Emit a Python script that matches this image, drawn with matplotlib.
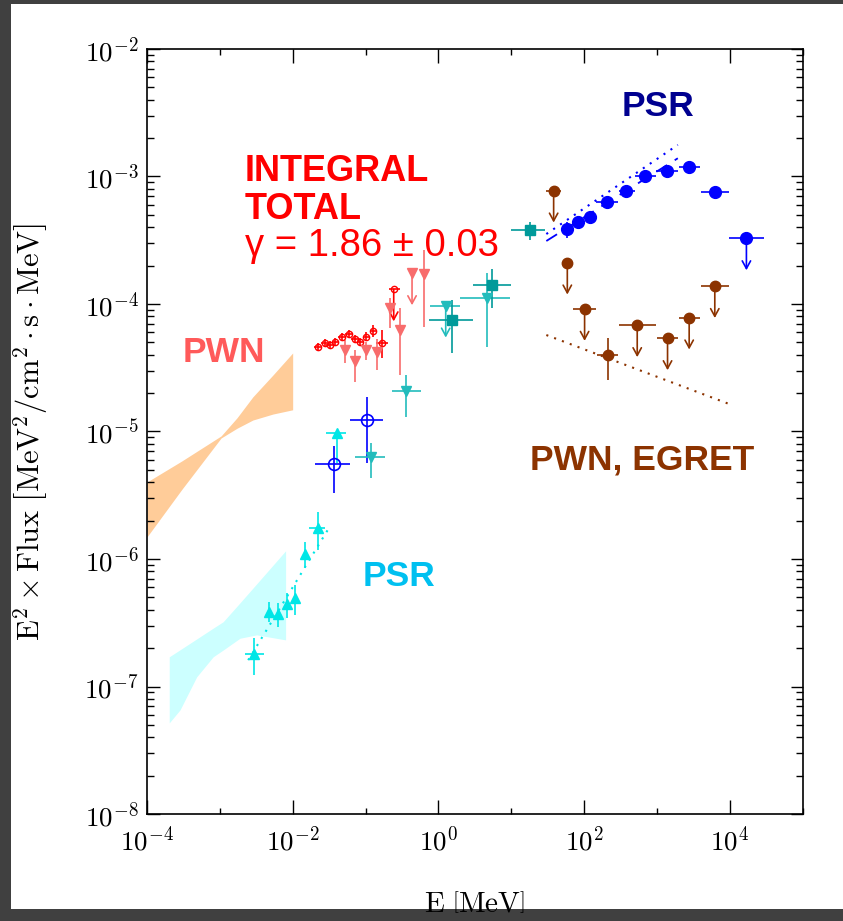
import numpy as np
import matplotlib
matplotlib.use('Agg')
import matplotlib.pyplot as plt
from matplotlib.patches import Rectangle
from matplotlib.ticker import FixedLocator, FuncFormatter, NullFormatter

plt.rcParams['mathtext.fontset'] = 'cm'
plt.rcParams['font.family'] = ['DejaVu Serif']

# ---------------- data (E in MeV, E^2 x Flux in MeV^2/(cm^2 s MeV)) ----------------
# PWN butterfly (low-energy)
pwn_band_E = [1.0e-4, 3.0e-4, 1.04e-3, 1.72e-3, 2.84e-3, 5.35e-3, 1.0e-2]
pwn_band_hi = [4.02e-6, 5.87e-6, 9.23e-6, 1.28e-5, 1.87e-5, 2.77e-5, 4.13e-5]
pwn_band_lo = [1.49e-6, 3.51e-6, 8.89e-6, 1.06e-5, 1.23e-5, 1.37e-5, 1.48e-5]

# PSR butterfly (low-energy)
psr_band_E = [2.02e-4, 2.84e-4, 4.81e-4, 8.11e-4, 1.11e-3, 1.89e-3, 3.20e-3, 8.0e-3]
psr_band_hi = [1.71e-7, 1.94e-7, 2.36e-7, 2.87e-7, 3.22e-7, 4.53e-7, 6.38e-7, 1.16e-6]
psr_band_lo = [5.18e-8, 6.55e-8, 1.19e-7, 1.71e-7, 1.93e-7, 2.39e-7, 2.54e-7, 2.32e-7]

# PSR cyan triangles
cy_E = [2.96e-3, 4.67e-3, 6.21e-3, 8.24e-3, 1.08e-2, 1.46e-2, 2.20e-2, 0.040]
cy_F = [1.80e-7, 3.86e-7, 3.68e-7, 4.42e-7, 4.92e-7, 1.09e-6, 1.76e-6, 9.68e-6]
cy_F_lo = [1.22e-7, 3.22e-7, 2.94e-7, 3.43e-7, 3.64e-7, 8.45e-7, 1.18e-6, 5.66e-6]
cy_F_hi = [2.39e-7, 4.62e-7, 4.52e-7, 5.38e-7, 6.25e-7, 1.37e-6, 2.35e-6, 1.0e-5]
cy_E_lo = [2.23e-3, 4.45e-3, 6.0e-3, 8.0e-3, 1.05e-2, 1.40e-2, 1.68e-2, 0.0285]
cy_E_hi = [4.03e-3, 4.9e-3, 6.45e-3, 8.5e-3, 1.11e-2, 1.52e-2, 2.82e-2, 0.0548]
cy_fit_E = [2.45e-3, 3.07e-2]
cy_fit_F = [1.61e-7, 1.71e-6]

# INTEGRAL total (red)
red_E = [0.0224, 0.0277, 0.0324, 0.0387, 0.0469, 0.0585, 0.0714, 0.0853, 0.1032, 0.127, 0.171]
red_F = [4.62e-5, 4.97e-5, 4.80e-5, 5.04e-5, 5.48e-5, 5.82e-5, 5.28e-5, 5.06e-5, 5.54e-5, 6.18e-5, 4.97e-5]
red_F_lo = [4.3e-5, 4.6e-5, 4.45e-5, 4.7e-5, 5.1e-5, 5.4e-5, 4.9e-5, 4.7e-5, 5.1e-5, 5.54e-5, 3.75e-5]
red_F_hi = [4.95e-5, 5.35e-5, 5.15e-5, 5.4e-5, 5.9e-5, 6.25e-5, 5.7e-5, 5.45e-5, 6.0e-5, 6.84e-5, 6.25e-5]
red_E_lo = [0.0199, 0.0246, 0.0288, 0.0344, 0.0417, 0.0521, 0.0636, 0.0760, 0.0920, 0.116, 0.1415]
red_E_hi = [0.0252, 0.0311, 0.0364, 0.0435, 0.0527, 0.0657, 0.0802, 0.0958, 0.1158, 0.139, 0.204]
red_ul_E = [0.244]
red_ul_F = [1.30e-4]
red_ul_E_lo = [0.211]
red_ul_E_hi = [0.296]

# salmon triangles
sal_E = [0.0520, 0.0719, 0.1009, 0.144, 0.2153, 0.302, 0.631]
sal_F = [4.35e-5, 3.59e-5, 4.35e-5, 4.23e-5, 9.25e-5, 6.25e-5, 1.71e-4]
sal_F_lo = [3.43e-5, 2.46e-5, 3.64e-5, 3.03e-5, 6.44e-5, 2.77e-5, 6.64e-5]
sal_F_hi = [5.22e-5, 4.35e-5, 5.06e-5, 5.28e-5, 1.11e-4, 9.25e-5, 2.65e-4]
sal_ul_E = [0.4355]
sal_ul_F = [1.74e-4]

# dark cyan triangles
dc_E = [0.1172, 0.3648, 4.66]
dc_F = [6.28e-6, 2.09e-5, 1.11e-4]
dc_E_lo = [0.0713, 0.2275, 2.01]
dc_E_hi = [0.188, 0.586, 9.53]
dc_F_lo = [4.30e-6, 1.31e-5, 4.62e-5]
dc_F_hi = [8.07e-6, 2.77e-5, 1.74e-4]
dc_ul_E = [1.263]
dc_ul_F = [9.7e-5]
dc_ul_E_lo = [0.762]
dc_ul_E_hi = [1.97]

# teal squares
tq_E = [1.56, 5.52, 17.9]
tq_F = [7.50e-5, 1.41e-4, 3.80e-4]
tq_E_lo = [0.745, 2.99, 10.07]
tq_E_hi = [2.99, 10.07, 29.4]
tq_F_lo = [4.10e-5, 9.25e-5, 3.18e-4]
tq_F_hi = [1.07e-4, 1.87e-4, 4.42e-4]

# blue open circles
oc_E = [0.0364, 0.105]
oc_F = [5.56e-6, 1.23e-5]
oc_E_lo = [0.0201, 0.061]
oc_E_hi = [0.061, 0.174]
oc_F_lo = [3.31e-6, 5.64e-6]
oc_F_hi = [7.69e-6, 1.85e-5]

# PSR EGRET (blue)
ps_E = [59.0, 83.6, 119.4, 206, 380, 693, 1390, 2750, 6250]
ps_F = [3.85e-4, 4.37e-4, 4.84e-4, 6.34e-4, 7.69e-4, 1.01e-3, 1.10e-3, 1.19e-3, 7.55e-4]
ps_E_lo = [54, 77, 110, 147.5, 301, 494, 982, 1986, 3981]
ps_E_hi = [64, 91, 130, 292, 494, 982, 1941, 3936, 9840]
ps_F_lo = [3.27e-4, 4.1e-4, 4.6e-4, 6.1e-4, 7.4e-4, 9.7e-4, 1.06e-3, 1.15e-3, 7.2e-4]
ps_F_hi = [4.42e-4, 4.65e-4, 5.1e-4, 6.6e-4, 8.0e-4, 1.05e-3, 1.14e-3, 1.24e-3, 7.9e-4]
ps_ul_E = [16980]
ps_ul_F = [3.27e-4]
ps_ul_E_lo = [9930]
ps_ul_E_hi = [29400]
ps_dot_E = [30.4, 1941]
ps_dot_F = [3.54e-4, 1.77e-3]
ps_dash_E = [30.4, 1941]
ps_dash_F = [3.12e-4, 1.39e-3]

# PWN EGRET (brown)
br_E = [211]
br_F = [3.98e-5]
br_E_lo = [150]
br_E_hi = [296]
br_F_lo = [2.54e-5]
br_F_hi = [5.45e-5]
br_ul_E = [38.3, 59.0, 101.9, 538, 1403, 2780, 6250]
br_ul_F = [7.74e-4, 2.11e-4, 9.14e-5, 6.81e-5, 5.38e-5, 7.82e-5, 1.38e-4]
br_ul_E_lo = [30.4, 59.0, 70.5, 301, 1000, 2006, 3981]
br_ul_E_hi = [48.9, 59.0, 147.5, 982, 1968, 3936, 9930]
br_fit_E = [30.4, 9930]
br_fit_F = [5.71e-5, 1.64e-5]

x_major = [1e-4, 1e-2, 1e0, 1e2, 1e4]
x_minor = [1e-3, 1e-1, 1e1, 1e3, 1e5]
y_major = [1e-8, 1e-7, 1e-6, 1e-5, 1e-4, 1e-3, 1e-2]

# ---------------- styles ----------------
C_BLUE = '#0000ff'
C_NAVY = '#000090'
C_BROWN = '#8c3300'
C_RED = '#ff0000'
C_SALMON = '#f86c6c'
C_PWN_TXT = '#ff5a5a'
C_DCYAN = '#22bcbc'
C_TEAL = '#009a9a'
C_CYAN = '#00e6e6'
C_CYAN_TXT = '#00c0f0'
ARROW_DEX = 0.25
ELW = 1.2

W, H = 843, 921
fig = plt.figure(figsize=(W / 100, H / 100), dpi=100, facecolor='#404040')
fig.add_artist(Rectangle((11 / W, 12 / H), 1 - 11 / W, (H - 12 - 4) / H,
                         transform=fig.transFigure, facecolor='white',
                         edgecolor='none', zorder=-10))
ax = fig.add_axes([147 / W, 1 - 814 / H, (802.5 - 147) / W, (814 - 49) / H])
ax.set_xscale('log')
ax.set_yscale('log')
ax.set_xlim(1e-4, 1e5)
ax.set_ylim(1e-8, 1e-2)


def ebar(E, F, Elo, Ehi, Flo, Fhi, color, marker, ms, mfc=None, mew=1.0, z=5):
    E = np.asarray(E); F = np.asarray(F)
    xerr = None if Elo is None else [E - np.asarray(Elo), np.asarray(Ehi) - E]
    yerr = None if Flo is None else [F - np.asarray(Flo), np.asarray(Fhi) - F]
    ax.errorbar(E, F, xerr=xerr, yerr=yerr, fmt=marker, color=color, ms=ms,
                mfc=color if mfc is None else mfc, mec=color, mew=mew,
                elinewidth=ELW, capsize=0, zorder=z)


def ularrows(E, F, color, z=4):
    for e, f in zip(E, F):
        ax.annotate('', xy=(e, f * 10 ** (-ARROW_DEX)), xytext=(e, f),
                    arrowprops=dict(arrowstyle='->,head_length=0.55,head_width=0.3',
                                    color=color, lw=ELW, shrinkA=0, shrinkB=0),
                    zorder=z)


# bands
ax.fill_between(pwn_band_E, pwn_band_lo, pwn_band_hi, color='#ffcc99', lw=0, zorder=1)
ax.fill_between(psr_band_E, psr_band_lo, psr_band_hi, color='#ccffff', lw=0, zorder=1)

# fit lines
ax.plot(cy_fit_E, cy_fit_F, ls=(0, (1, 3)), color=C_CYAN, lw=1.5, zorder=2)
ax.plot(ps_dot_E, ps_dot_F, ls=(0, (1, 3)), color=C_BLUE, lw=1.5, zorder=2)
ax.plot(ps_dash_E, ps_dash_F, ls=(0, (7, 5)), color=C_BLUE, lw=1.3, zorder=2)
ax.plot(br_fit_E, br_fit_F, ls=(0, (1, 3)), color=C_BROWN, lw=1.5, zorder=2)

# low energy PSR
ebar(cy_E, cy_F, cy_E_lo, cy_E_hi, cy_F_lo, cy_F_hi, C_CYAN, '^', 7.5)
# open blue circles
ebar(oc_E, oc_F, oc_E_lo, oc_E_hi, oc_F_lo, oc_F_hi, C_BLUE, 'o', 8.5, mfc='none', mew=1.2)
# INTEGRAL total
ebar(red_E, red_F, red_E_lo, red_E_hi, red_F_lo, red_F_hi, C_RED, 'o', 4.5, mfc='none', mew=1.0)
ebar(red_ul_E, red_ul_F, red_ul_E_lo, red_ul_E_hi, None, None, C_RED, 'o', 4.5, mfc='none', mew=1.0)
ularrows(red_ul_E, red_ul_F, C_RED)
# salmon
ebar(sal_E, sal_F, None, None, sal_F_lo, sal_F_hi, C_SALMON, 'v', 7.5)
ebar(sal_ul_E, sal_ul_F, None, None, None, None, C_SALMON, 'v', 7.5)
ularrows(sal_ul_E, sal_ul_F, C_SALMON)
# dark cyan
ebar(dc_E, dc_F, dc_E_lo, dc_E_hi, dc_F_lo, dc_F_hi, C_DCYAN, 'v', 7.5)
ebar(dc_ul_E, dc_ul_F, dc_ul_E_lo, dc_ul_E_hi, None, None, C_DCYAN, 'v', 7.5)
ularrows(dc_ul_E, dc_ul_F, C_DCYAN)
# teal squares
ebar(tq_E, tq_F, tq_E_lo, tq_E_hi, tq_F_lo, tq_F_hi, C_TEAL, 's', 7.5)
# PSR EGRET
ebar(ps_E, ps_F, ps_E_lo, ps_E_hi, ps_F_lo, ps_F_hi, C_BLUE, 'o', 8.5)
ebar(ps_ul_E, ps_ul_F, ps_ul_E_lo, ps_ul_E_hi, None, None, C_BLUE, 'o', 8.5)
ularrows(ps_ul_E, ps_ul_F, C_BLUE)
# PWN EGRET
ebar(br_E, br_F, br_E_lo, br_E_hi, br_F_lo, br_F_hi, C_BROWN, 'o', 7.5)
ebar(br_ul_E, br_ul_F, br_ul_E_lo, br_ul_E_hi, None, None, C_BROWN, 'o', 7.5)
ularrows(br_ul_E, br_ul_F, C_BROWN)

# ticks
fmt = FuncFormatter(lambda v, p: r'$10^{%d}$' % int(round(np.log10(v))))
ax.xaxis.set_major_locator(FixedLocator(x_major))
ax.xaxis.set_minor_locator(FixedLocator(x_minor))
ax.xaxis.set_major_formatter(fmt)
ax.xaxis.set_minor_formatter(NullFormatter())
ax.yaxis.set_major_locator(FixedLocator(y_major))
ax.yaxis.set_minor_locator(FixedLocator(
    [m * 10.0 ** k for k in range(-8, -2) for m in range(2, 10)]))
ax.yaxis.set_major_formatter(fmt)
ax.yaxis.set_minor_formatter(NullFormatter())
ax.tick_params(which='both', direction='in', top=True, right=True, width=1.0, colors='black')
ax.tick_params(axis='x', which='major', length=10, pad=9, labelsize=19.5)
ax.tick_params(axis='x', which='minor', length=4)
ax.tick_params(axis='y', which='major', length=9, pad=6, labelsize=19.5)
ax.tick_params(axis='y', which='minor', length=5)
for s in ax.spines.values():
    s.set_linewidth(1.2)

ax.set_xlabel(r'$\mathrm{E}\ \left[\mathrm{MeV}\right]$', fontsize=21)
ax.xaxis.set_label_coords(0.5, -0.100)
ax.set_ylabel(r'$\mathrm{E}^2\times\mathrm{Flux}\ \left[\mathrm{MeV}^2/\mathrm{cm}^2\cdot\mathrm{s}\cdot\mathrm{MeV}\right]$',
              fontsize=22)
ax.yaxis.set_label_coords(-0.148, 0.5)

# annotations
SANS = ['Liberation Sans', 'DejaVu Sans']


def ftext(px, py, s, color, bold=True, size=25.5):
    fig.text(px / W, 1 - py / H, s, color=color, fontsize=size, family=SANS,
             fontweight='bold' if bold else 'normal', ha='left', va='baseline')


ftext(622, 116, 'PSR', C_NAVY)
ftext(245, 181, 'INTEGRAL', C_RED, size=26)
ftext(245, 219, 'TOTAL', C_RED, size=26)
ftext(245, 256, 'γ = 1.86 ± 0.03', C_RED, bold=False, size=27.5)
ftext(183, 362, 'PWN', C_PWN_TXT)
ftext(530, 469, 'PWN, EGRET', C_BROWN)
ftext(363, 586, 'PSR', C_CYAN_TXT)

fig.savefig('out.png', dpi=100, facecolor=fig.get_facecolor())
